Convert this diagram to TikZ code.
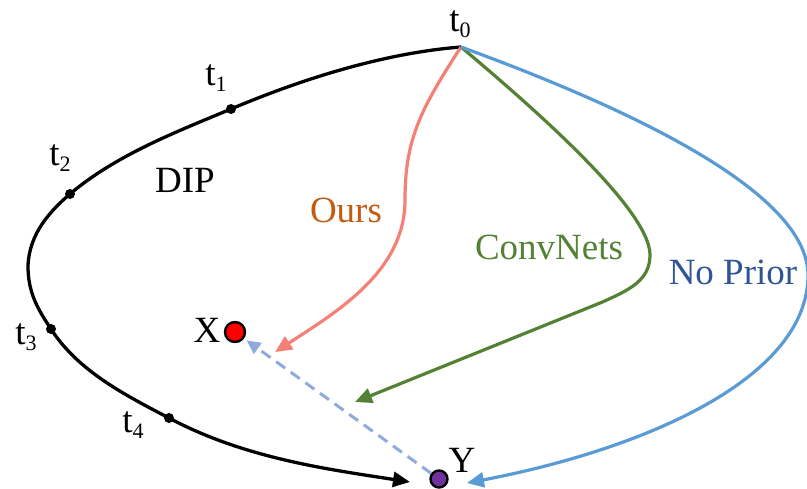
\documentclass[tikz,border=0pt]{standalone}
\usepackage{fontspec}
\setmainfont{Liberation Serif}
\usetikzlibrary{arrows.meta}
\definecolor{oursline}{RGB}{244,128,118}
\definecolor{ourstext}{RGB}{197,90,17}
\definecolor{convgreen}{RGB}{84,130,53}
\definecolor{npblue}{RGB}{91,155,213}
\definecolor{nptext}{RGB}{47,85,151}
\definecolor{dashblue}{RGB}{143,170,220}
\definecolor{ypurple}{RGB}{112,48,160}
\newcommand{\tsub}[1]{t{\fontsize{22}{22}\selectfont\raisebox{-6pt}{#1}}}
\begin{document}
\begin{tikzpicture}[x=1pt,y=-1pt,
  lbl/.style={font=\fontsize{37}{40}\selectfont, inner sep=0pt},
  tdot/.style={circle, fill=black, minimum size=10pt, inner sep=0pt},
  pathline/.style={line width=3.2pt, -{Triangle[length=17pt,width=15pt]}},
  ptdot/.style={circle, draw=black, line width=2.4pt, minimum size=20pt, inner sep=0pt}]
\useasboundingbox (0,0) rectangle (807,488);
% points
\coordinate (t0) at (461,47);
\node[tdot] (p1) at (231,109) {};
\node[tdot] (p2) at (70,194) {};
\node[tdot] (p3) at (51,329) {};
\node[tdot] (p4) at (169,418) {};
\coordinate (left) at (28,266);
\coordinate (blackend) at (410,482);
\coordinate (redend) at (275,352);
\coordinate (greenend) at (355,402);
\coordinate (blueend) at (467,483);
\node[ptdot, fill=red] (X) at (235,332) {};
\node[ptdot, fill=ypurple, minimum size=17pt] (Y) at (439,479) {};
% black DIP curve
\draw[pathline, black, line width=3.3pt]
  (t0) .. controls (384,53) and (302,79) .. (p1.center)
  .. controls (176,132) and (116,155) .. (p2.center)
  .. controls (50,211) and (29,234) .. (left)
  .. controls (28,292) and (37,308) .. (p3.center)
  .. controls (78,371) and (125,395) .. (p4.center)
  .. controls (244,458) and (326,469) .. (blackend);
% Ours
\draw[pathline, oursline] (t0) .. controls (420,110) and (405,140) .. (405,200)
  .. controls (405,270) and (340,310) .. (redend);
% ConvNets
\draw[pathline, convgreen] (t0) .. controls (560,130) and (650,215) .. (650,255)
  .. controls (650,280) and (630,290) .. (600,303) -- (greenend);
% No Prior
\draw[pathline, npblue] (t0) .. controls (620,105) and (808,190) .. (808,275)
  .. controls (808,380) and (640,450) .. (blueend);
% dashed
\draw[line width=3pt, dashblue, dash pattern=on 11pt off 7pt,
  -{Triangle[length=14pt,width=13pt]}, shorten >=3pt] (Y) -- (X);
% labels
\node[lbl] (lt0) at (460,24) {\tsub{0}};
\node[lbl] (lt1) at (216,78) {\tsub{1}};
\node[lbl] (lt2) at (60,158) {\tsub{2}};
\node[lbl] (lt3) at (26,337) {\tsub{3}};
\node[lbl] (lt4) at (133,425) {\tsub{4}};
\node[lbl] (dip) at (185,180) {DIP};
\node[lbl, text=ourstext] (ours) at (346,210) {Ours};
\node[lbl, text=convgreen] (conv) at (549,247) {ConvNets};
\node[lbl, text=nptext] (np) at (733,272) {No Prior};
\node[lbl] (xl) at (207,330) {X};
\node[lbl] (yl) at (462,460) {Y};
\end{tikzpicture}
\end{document}
